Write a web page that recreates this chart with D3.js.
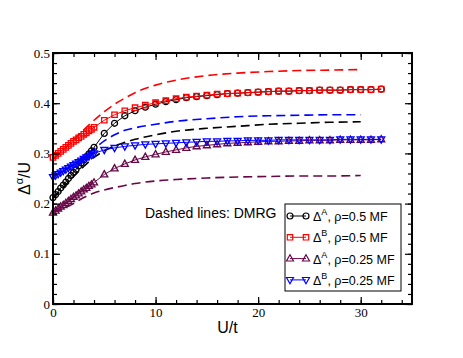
<!DOCTYPE html>
<html>
<head>
<meta charset="utf-8">
<script src="https://cdn.jsdelivr.net/npm/d3@7"></script>
<style>
  body { margin: 0; background: #fff; }
  svg { display: block; }
</style>
</head>
<body>
<div id="chart"></div>
<script>
// U/t values of the mean-field points: dense near zero, then integer steps
const uMF = [0, 0.25, 0.5, 0.75, 1, 1.25, 1.5, 1.75, 2, 2.25, 2.5, 2.75, 3, 3.25, 3.5, 3.75, 4,
  5, 6, 7, 8, 9, 10, 11, 12, 13, 14, 15, 16, 17, 18, 19, 20,
  21, 22, 23, 24, 25, 26, 27, 28, 29, 30, 31, 32];

// Δ^A, ρ=0.5 MF
const mfA05 = [0.212, 0.218, 0.224, 0.231, 0.237, 0.243, 0.250, 0.256, 0.262, 0.268, 0.275, 0.281, 0.287, 0.293, 0.299, 0.305, 0.312,
  0.340, 0.360, 0.375, 0.385, 0.392, 0.398, 0.403, 0.407, 0.411, 0.413, 0.415, 0.417, 0.419, 0.420, 0.421, 0.422,
  0.423, 0.424, 0.424, 0.425, 0.425, 0.426, 0.426, 0.426, 0.427, 0.427, 0.427, 0.428];
// Δ^B, ρ=0.5 MF
const mfB05 = [0.292, 0.296, 0.300, 0.304, 0.308, 0.312, 0.316, 0.320, 0.324, 0.327, 0.331, 0.334, 0.338, 0.341, 0.345, 0.348, 0.352,
  0.366, 0.377, 0.385, 0.391, 0.396, 0.401, 0.405, 0.409, 0.412, 0.414, 0.416, 0.418, 0.419, 0.420, 0.421, 0.422,
  0.423, 0.424, 0.424, 0.425, 0.425, 0.426, 0.426, 0.426, 0.427, 0.427, 0.427, 0.428];
// Δ^A, ρ=0.25 MF
const mfA025 = [0.182, 0.186, 0.190, 0.194, 0.197, 0.201, 0.205, 0.209, 0.213, 0.216, 0.220, 0.224, 0.228, 0.231, 0.235, 0.238, 0.242,
  0.258, 0.270, 0.279, 0.287, 0.293, 0.298, 0.303, 0.307, 0.311, 0.314, 0.316, 0.318, 0.320, 0.321, 0.322, 0.323,
  0.324, 0.324, 0.325, 0.325, 0.326, 0.326, 0.326, 0.327, 0.327, 0.327, 0.327, 0.328];
// Δ^B, ρ=0.25 MF
const mfB025 = [0.253, 0.256, 0.259, 0.262, 0.265, 0.268, 0.271, 0.274, 0.277, 0.280, 0.283, 0.286, 0.289, 0.292, 0.294, 0.297, 0.300,
  0.307, 0.311, 0.314, 0.316, 0.318, 0.319, 0.320, 0.321, 0.322, 0.323, 0.324, 0.324, 0.325, 0.325, 0.326, 0.326,
  0.326, 0.327, 0.327, 0.327, 0.327, 0.327, 0.327, 0.328, 0.328, 0.328, 0.328, 0.328];

// DMRG (dashed lines)
const uDMRG = [0, 1, 2, 3, 4, 5, 6, 7, 8, 10, 12, 15, 18, 21, 24, 27, 30];
const dmrgB05 = [0.288, 0.307, 0.327, 0.347, 0.366, 0.383, 0.398, 0.410, 0.421, 0.436, 0.446, 0.455, 0.460, 0.463, 0.465, 0.466, 0.467];
const dmrgB025 = [0.255, 0.265, 0.279, 0.293, 0.309, 0.325, 0.337, 0.346, 0.351, 0.358, 0.364, 0.369, 0.373, 0.375, 0.376, 0.377, 0.377];
const dmrgA05 = [0.210, 0.232, 0.254, 0.274, 0.292, 0.305, 0.315, 0.322, 0.328, 0.337, 0.344, 0.350, 0.354, 0.358, 0.360, 0.362, 0.363];
const dmrgA025 = [0.183, 0.190, 0.200, 0.212, 0.221, 0.227, 0.232, 0.236, 0.240, 0.245, 0.248, 0.251, 0.253, 0.254, 0.255, 0.255, 0.256];

const xTicks = [0, 10, 20, 30];
const yTicks = [0, 0.1, 0.2, 0.3, 0.4, 0.5];
const yTickLabels = ['0', '0.1', '0.2', '0.3', '0.4', '0.5'];

const mfSeries = [
  {name: 'A', rho: '0.5', values: mfA05, color: '#000000', symbol: 'circle'},
  {name: 'B', rho: '0.5', values: mfB05, color: '#ff0000', symbol: 'square'},
  {name: 'A', rho: '0.25', values: mfA025, color: '#670748', symbol: 'up'},
  {name: 'B', rho: '0.25', values: mfB025, color: '#0000ff', symbol: 'down'}
];
const dmrgSeries = [
  {values: dmrgB05, color: '#ff0000'},
  {values: dmrgB025, color: '#0000ff'},
  {values: dmrgA05, color: '#000000'},
  {values: dmrgA025, color: '#670748'}
];

const W = 463, H = 358;
const m = {left: 53, top: 53, right: 51, bottom: 54};
const serif = '"Liberation Serif", "DejaVu Serif", Times, serif';
const sans = '"Liberation Sans", Arial, sans-serif';

const svg = d3.select('#chart').append('svg')
  .attr('width', W).attr('height', H);

const x = d3.scaleLinear().domain([0, 35]).range([m.left, W - m.right]);
const y = d3.scaleLinear().domain([0, 0.5]).range([H - m.bottom, m.top]);

// 虚线 DMRG
const dline = d3.line().x(d => x(d[0])).y(d => y(d[1])).curve(d3.curveMonotoneX);
dmrgSeries.forEach(s => {
  svg.append('path')
    .attr('d', dline(uDMRG.map((u, i) => [u, s.values[i]])))
    .attr('fill', 'none')
    .attr('stroke', s.color)
    .attr('stroke-width', 1.6)
    .attr('stroke-dasharray', '9,5');
});

function symbolPath(type) {
  if (type === 'circle') return d3.symbol(d3.symbolCircle, 28)();
  if (type === 'square') return 'M-2.7,-2.7H2.7V2.7H-2.7Z';
  if (type === 'up') return 'M0,-3.8L3.5,2.4H-3.5Z';
  return 'M0,3.8L3.5,-2.4H-3.5Z';
}

const line = d3.line().x(d => x(d[0])).y(d => y(d[1]));
mfSeries.forEach(s => {
  const pts = uMF.map((u, i) => [u, s.values[i]]);
  svg.append('path')
    .attr('d', line(pts))
    .attr('fill', 'none')
    .attr('stroke', s.color)
    .attr('stroke-width', 1);
  svg.append('g').selectAll('path')
    .data(pts)
    .join('path')
    .attr('transform', d => `translate(${x(d[0])},${y(d[1])})`)
    .attr('d', symbolPath(s.symbol))
    .attr('fill', 'none')
    .attr('stroke', s.color)
    .attr('stroke-width', 1.3);
});

// axes — ticks inward on all four sides
const xMinor = d3.range(0, 35.01, 2);
const yMinor = d3.range(0, 0.501, 0.02);
svg.append('g').attr('transform', `translate(0,${H - m.bottom})`)
  .call(d3.axisBottom(x).tickValues(xMinor).tickSize(-4).tickFormat(''));
svg.append('g').attr('transform', `translate(0,${m.top})`)
  .call(d3.axisTop(x).tickValues(xMinor).tickSize(-4).tickFormat(''));
svg.append('g').attr('transform', `translate(${m.left},0)`)
  .call(d3.axisLeft(y).tickValues(yMinor).tickSize(-4).tickFormat(''));
svg.append('g').attr('transform', `translate(${W - m.right},0)`)
  .call(d3.axisRight(y).tickValues(yMinor).tickSize(-4).tickFormat(''));

svg.append('g').attr('transform', `translate(0,${H - m.bottom})`)
  .call(d3.axisBottom(x).tickValues(xTicks).tickSize(-7).tickPadding(4).tickFormat(d3.format('d')));
svg.append('g').attr('transform', `translate(0,${m.top})`)
  .call(d3.axisTop(x).tickValues(xTicks).tickSize(-7).tickFormat(''));
svg.append('g').attr('transform', `translate(${m.left},0)`)
  .call(d3.axisLeft(y).tickValues(yTicks).tickSize(-7).tickPadding(3).tickFormat((d, i) => yTickLabels[i]));
svg.append('g').attr('transform', `translate(${W - m.right},0)`)
  .call(d3.axisRight(y).tickValues(yTicks).tickSize(-7).tickFormat(''));

svg.selectAll('.domain').remove();
svg.selectAll('g').attr('font-family', serif).attr('font-size', 13);
svg.selectAll('.tick line').attr('stroke', '#000').attr('stroke-width', 1.2);
svg.selectAll('.tick text')
  .attr('fill', '#000')
  .style('font-family', serif)
  .style('font-size', '13px');

svg.append('rect')
  .attr('x', m.left).attr('y', m.top)
  .attr('width', W - m.left - m.right).attr('height', H - m.top - m.bottom)
  .attr('fill', 'none').attr('stroke', '#000').attr('stroke-width', 2);

// axis titles
svg.append('text')
  .attr('x', x(17)).attr('y', 333)
  .attr('text-anchor', 'middle')
  .style('font-family', sans)
  .style('font-size', '16px')
  .text('U/t');

const yt = svg.append('text')
  .attr('transform', `translate(30,${(m.top + H - m.bottom) / 2}) rotate(-90)`)
  .attr('text-anchor', 'middle')
  .style('font-family', sans)
  .style('font-size', '16px');
yt.append('tspan').text('Δ');
yt.append('tspan').attr('dy', -7).style('font-size', '11px').text('α');
yt.append('tspan').attr('dy', 7).text('/U');

svg.append('text')
  .attr('x', 145).attr('y', 218)
  .style('font-family', sans)
  .style('font-size', '14px')
  .text('Dashed lines: DMRG');

// legend
const lg = svg.append('g');
lg.append('rect')
  .attr('x', 285).attr('y', 204).attr('width', 116).attr('height', 87)
  .attr('fill', '#fff').attr('stroke', '#000').attr('stroke-width', 1);
mfSeries.forEach((s, i) => {
  const yy = 216 + i * 21.3;
  lg.append('line').attr('x1', 290).attr('x2', 306).attr('y1', yy).attr('y2', yy)
    .attr('stroke', s.color).attr('stroke-width', 1);
  [290, 306].forEach(xx => {
    lg.append('path').attr('transform', `translate(${xx},${yy})`)
      .attr('d', symbolPath(s.symbol))
      .attr('fill', 'none').attr('stroke', s.color).attr('stroke-width', 1.2);
  });
  const t = lg.append('text')
    .attr('x', 313).attr('y', yy + 5)
    .style('font-family', sans)
    .style('font-size', '12.5px');
  t.append('tspan').text('Δ');
  t.append('tspan').attr('dy', -6).style('font-size', '9px').text(s.name);
  t.append('tspan').attr('dy', 6).text(`, ρ=${s.rho} MF`);
});
</script>
</body>
</html>
